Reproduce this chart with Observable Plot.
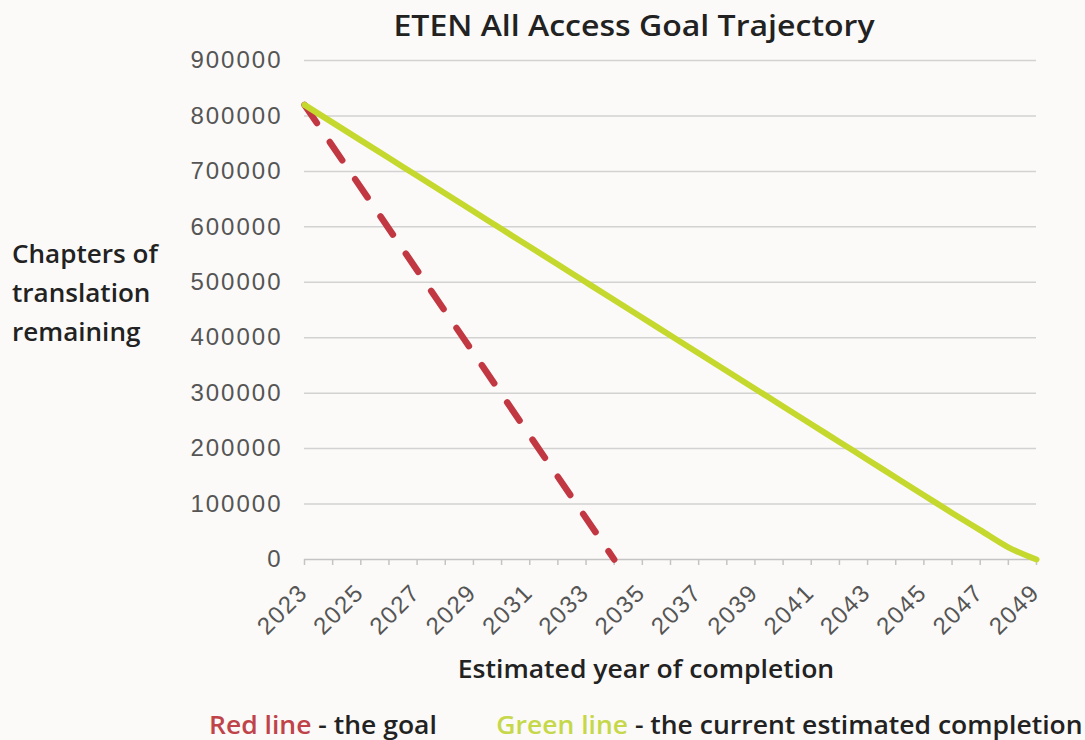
<!DOCTYPE html>
<html>
<head>
<meta charset="utf-8">
<script src="https://cdn.jsdelivr.net/npm/d3@7"></script>
<script src="https://cdn.jsdelivr.net/npm/@observablehq/plot@0.6"></script>
<style>
  html, body { margin: 0; padding: 0; background: #fbfaf8; }
  #wrap { position: relative; width: 1085px; height: 740px; overflow: hidden; background: #fbfaf8; }
  .t { position: absolute; font-family: "Open Sans", sans-serif; font-weight: 600; color: #222; white-space: nowrap; }
  #title { left: 633.5px; top: 5px; font-size: 28px; line-height: 40px; transform: translateX(-50%) scaleX(1.144); }
  #ylab { left: 12px; top: 234px; font-size: 25px; line-height: 39px; transform-origin: 0 0; transform: scaleX(1.043); }
  #xlab { left: 645.5px; top: 648px; font-size: 25px; line-height: 40px; transform: translateX(-50%) scaleX(1.062); }
  #legend { left: 209px; top: 704px; font-size: 25px; line-height: 40px; transform-origin: 0 0; transform: scaleX(1.06); }
  #chart { position: absolute; left: 0; top: 0; }
  #chart g[aria-label="y-axis tick label"] text { letter-spacing: 2px; }
  #chart g.xlabels text { letter-spacing: 1.5px; }
</style>
</head>
<body>
<div id="wrap">
  <div id="chart"></div>
  <div class="t" id="title">ETEN All Access Goal Trajectory</div>
  <div class="t" id="ylab">Chapters of<br>translation<br>remaining</div>
  <div class="t" id="xlab">Estimated year of completion</div>
  <div class="t" id="legend"><span style="color:#c0434a">Red line</span> - the goal<span style="display:inline-block;width:56px"></span><span style="color:#c6d84a">Green line</span> - the current estimated completion</div>
</div>
<script>
// Years on the x axis
const years = [2023,2024,2025,2026,2027,2028,2029,2030,2031,2032,2033,2034,2035,2036,2037,2038,2039,2040,2041,2042,2043,2044,2045,2046,2047,2048,2049];
// Green line: current estimated completion (chapters remaining)
const currentRemaining = [820000,788000,756000,724000,692000,660000,628000,596000,564000,532000,500000,468000,436000,404000,372000,340000,308000,276000,244000,212000,180000,148000,116000,84000,53000,22000,0];
// Red line: the goal
const goalYears = [2023, 2034];
const goalRemaining = [820000, 0];
// Tick values
const yTicks = [0,100000,200000,300000,400000,500000,600000,700000,800000,900000];
const xLabelYears = [2023,2025,2027,2029,2031,2033,2035,2037,2039,2041,2043,2045,2047,2049];

const current = years.map((y, i) => ({year: y, value: currentRemaining[i]}));
const goal = goalYears.map((y, i) => ({year: y, value: goalRemaining[i]}));

const chart = Plot.plot({
  width: 1085,
  height: 640,
  marginTop: 60,
  marginBottom: 81,
  marginLeft: 304,
  marginRight: 49,
  style: {background: "transparent", overflow: "visible"},
  x: {domain: [2023, 2049], label: null},
  y: {domain: [0, 900000], label: null},
  marks: [
    Plot.ruleY(yTicks.filter(d => d > 0), {stroke: "#d2d2d2", strokeWidth: 1.5}),
    Plot.ruleY([0], {stroke: "#c4c4c4", strokeWidth: 1.5}),
    Plot.axisX({ticks: years, tickSize: 6, stroke: "#c4c4c4", strokeWidth: 1.5, tickFormat: () => "", label: null}),
    Plot.axisY({ticks: yTicks, tickSize: 0, tickPadding: 22, tickFormat: d3.format("d"), fontSize: 24, fill: "#555",
      fontFamily: "Liberation Sans, Arial, sans-serif", label: null}),
    Plot.text(xLabelYears, {x: d => d, y: 0, text: d => String(d), rotate: -45, textAnchor: "end", lineAnchor: "middle",
      dx: -1, dy: 29, fontSize: 24, fill: "#555", className: "xlabels", fontFamily: "Liberation Sans, Arial, sans-serif"}),
    Plot.line(goal, {x: "year", y: "value", stroke: "#c23842", strokeWidth: 6.5, strokeDasharray: "22,23"}),
    Plot.line(current, {x: "year", y: "value", stroke: "#c5d82d", strokeWidth: 6, curve: "monotone-x", strokeLinecap: "round"})
  ]
});
document.getElementById("chart").appendChild(chart);
</script>
</body>
</html>
